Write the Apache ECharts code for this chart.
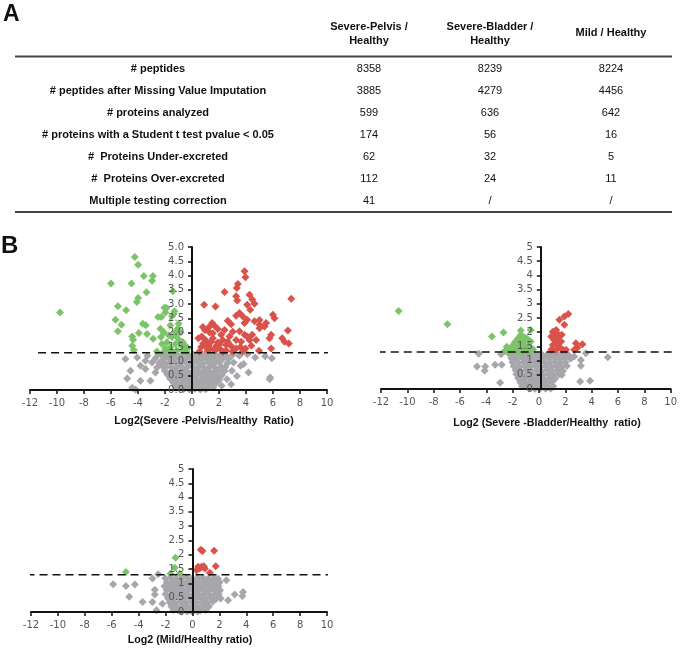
<!DOCTYPE html>
<html>
<head>
<meta charset="utf-8">
<script src="https://cdn.jsdelivr.net/npm/echarts@6/dist/echarts.min.js"></script>
<style>
html,body{margin:0;padding:0;background:#fff;}
#c{width:680px;height:648px;}
</style>
</head>
<body>
<div id="c"></div>
<script>
// ---------- Table data ----------
const colHeaders = [["Severe-Pelvis /", "Healthy"], ["Severe-Bladder /", "Healthy"], ["Mild / Healthy"]];
const rowLabels = [
  "# peptides",
  "# peptides after Missing Value Imputation",
  "# proteins analyzed",
  "# proteins with a Student t test pvalue < 0.05",
  "#  Proteins Under-excreted",
  "#  Proteins Over-excreted",
  "Multiple testing correction"
];
const pelvisVals = ["8358", "3885", "599", "174", "62", "112", "41"];
const bladderVals = ["8239", "4279", "636", "56", "32", "24", "/"];
const mildVals = ["8224", "4456", "642", "16", "5", "11", "/"];

// ---------- Volcano plot data [log2 ratio, -log10 p] ----------
const threshold = 1.3;
const xTicks = { min: -12, max: 10, step: 2 };

const p1Green = [
  [-9.78,2.71],[-4.24,4.65],[-3.99,4.38],[-6.0,3.72],[-4.48,3.72],[-3.57,3.99],[-2.9,3.99],[-2.96,3.82],
  [-3.37,3.42],[-3.99,3.22],[-4.09,3.08],[-5.49,2.93],[-4.88,2.79],[-5.67,2.46],[-5.22,2.28],[-5.49,2.05],
  [-3.65,2.32],[-3.42,2.26],[-3.94,1.99],[-4.43,1.87],[-4.36,1.76],[-2.88,1.79],[-3.33,1.96],[-4.43,1.55],
  [-4.31,1.4],[-2.04,2.88],[-1.97,2.71],[-2.27,2.55],[-2.51,2.55],[-1.48,2.58],[-1.35,2.67],[-0.99,2.32],
  [-1.6,2.26],[-2.34,2.14],[-2.09,2.02],[-1.72,1.91],[-1.23,2.02],[-0.86,2.02],[-1.48,1.85],[-1.85,1.67],
  [-2.22,1.61],[-1.97,1.44],[-1.6,1.49],[-1.23,1.61],[-0.79,1.55],[-0.49,1.55],[-0.37,1.44],[-1.11,1.38],
  [-1.48,1.32],[-2.09,1.32],[-1.42,3.45],[-1.9,2.87],[-1.3,2.75],[-0.95,1.75],[-0.62,1.36],[-1.75,1.4],
  [-1.05,2.15],[-2.6,1.35],[-0.7,1.68],[-1.2,1.9],[-2.3,1.85],[-0.4,1.33]
];
const p1Red = [
  [3.89,4.15],[3.96,3.94],[3.4,3.71],[3.32,3.57],[2.41,3.43],[4.26,3.33],[3.27,3.28],[3.35,3.13],
  [4.46,3.16],[4.63,3.02],[4.09,2.98],[4.31,2.81],[0.9,2.98],[1.74,2.92],[7.35,3.19],[3.52,2.69],
  [3.27,2.6],[5.99,2.63],[6.11,2.51],[2.65,2.42],[2.9,2.3],[4.09,2.46],[3.89,2.34],[4.63,2.4],
  [5.0,2.28],[5.37,2.22],[5.0,2.16],[1.49,2.34],[1.67,2.25],[0.95,2.1],[1.91,2.13],[1.3,2.01],
  [2.16,1.93],[2.78,1.87],[3.52,2.05],[3.89,1.93],[4.46,1.93],[7.1,2.08],[5.86,1.93],[0.47,1.81],
  [0.72,1.87],[1.54,1.81],[2.28,1.75],[2.65,1.69],[3.27,1.75],[4.09,1.87],[4.75,1.75],[5.74,1.81],
  [6.68,1.81],[6.85,1.69],[7.17,1.63],[0.84,1.63],[1.2,1.57],[1.79,1.54],[2.9,1.54],[3.59,1.5],
  [3.96,1.45],[1.17,1.38],[1.67,1.38],[2.16,1.4],[3.27,1.45],[4.96,1.37],[5.86,1.45],[0.68,1.5],
  [2.53,1.38],[1.91,1.66],[1.54,1.98],[2.41,2.1],[1.25,2.19],[5.0,2.45],[3.77,2.57],[3.02,2.04],
  [1.05,1.5],[2.04,1.61],[2.53,1.57],[1.42,1.69],[3.64,1.69],[4.26,1.75],[5.49,2.34],[0.55,1.35],
  [1.0,1.75],[1.35,1.45],[2.3,1.33],[3.0,1.35],[3.75,1.35],[4.4,1.55],[1.85,1.45],[0.8,2.2]
];
const p1Gray = [
  [-4.93,1.08],[-4.06,1.14],[-3.45,1.02],[-2.71,1.11],[-2.96,0.96],[-3.82,0.85],[-3.45,0.73],[-4.56,0.67],
  [-2.59,0.79],[-2.22,0.85],[-2.71,0.61],[-3.08,0.32],[-3.82,0.32],[-4.8,0.4],[-4.43,0.08],[-4.19,0.02],
  [-3.3,1.2],[-2.5,1.25],[1.48,1.14],[2.71,1.08],[3.08,0.96],[3.82,0.91],[4.68,1.14],[5.42,1.18],
  [5.91,1.11],[2.46,0.79],[2.96,0.67],[3.33,0.49],[4.19,0.61],[2.59,0.38],[5.79,0.44],[5.75,0.38],
  [3.5,1.2],[4.1,1.25],[3.0,1.22],[2.9,0.2],[3.6,0.85],[2.2,0.15],
  [-2.3,1.23],[-1.92,1.21],[-1.48,1.24],[-1.1,1.2],[-0.72,1.25],[-0.28,1.22],[0.12,1.24],[0.52,1.2],
  [0.93,1.23],[1.31,1.21],[1.72,1.25],[2.08,1.22],[2.52,1.2],
  [-2.12,1.07],[-1.68,1.09],[-1.33,1.06],[-0.9,1.1],[-0.52,1.07],[-0.08,1.09],[0.31,1.06],[0.72,1.1],
  [1.12,1.07],[1.53,1.09],[1.88,1.06],[2.32,1.1],
  [-2.42,0.95],[-1.98,0.93],[-1.62,0.96],[-1.18,0.92],[-0.82,0.95],[-0.4,0.94],[0.02,0.92],[0.43,0.96],
  [0.81,0.93],[1.22,0.95],[1.61,0.92],[2.02,0.96],[2.6,0.93],
  [-1.93,0.81],[-1.52,0.78],[-1.08,0.82],[-0.71,0.79],[-0.31,0.81],[0.13,0.78],[0.52,0.82],[0.88,0.79],
  [1.32,0.81],[1.71,0.78],[2.18,0.8],
  [-2.02,0.67],[-1.58,0.64],[-1.21,0.68],[-0.79,0.65],[-0.42,0.67],[0.03,0.64],[0.41,0.68],[0.82,0.65],
  [1.19,0.67],[1.62,0.64],[1.98,0.68],[2.41,0.66],
  [-1.81,0.53],[-1.39,0.5],[-1.02,0.54],[-0.58,0.51],[-0.21,0.53],[0.22,0.5],[0.61,0.54],[0.98,0.51],
  [1.42,0.53],[1.79,0.5],[2.21,0.52],
  [-1.62,0.39],[-1.21,0.36],[-0.79,0.4],[-0.42,0.37],[0.01,0.39],[0.38,0.36],[0.81,0.4],[1.19,0.37],
  [1.61,0.39],[2.02,0.36],
  [-1.38,0.25],[-1.02,0.22],[-0.61,0.26],[-0.18,0.23],[0.21,0.25],[0.62,0.22],[0.98,0.26],[1.41,0.23],[1.82,0.25],
  [-1.22,0.11],[-0.78,0.09],[-0.41,0.12],[0.02,0.09],[0.41,0.11],[0.79,0.08],[1.22,0.12],[1.58,0.1],
  [-0.62,0.03],[-0.18,0.02],[0.22,0.04],[0.61,0.02],[1.02,0.03]
];

const p2Green = [
  [-10.66,2.75],[-6.96,2.28],[-3.58,1.85],[-2.7,1.99],[-1.38,2.06],[-0.63,2.08],[-2.08,1.49],[-1.83,1.65],
  [-1.58,1.79],[-1.38,1.91],[-1.2,1.69],[-1.08,1.55],[-1.45,1.44],[-2.33,1.38],[-1.83,1.38],[-0.95,1.38],
  [-0.7,1.49],[-0.63,1.67],[-2.45,1.49],[-1.7,1.55],[-1.33,1.61],[-1.58,1.32],[-1.2,1.29],[-0.88,1.76],
  [-0.45,1.4],[-1.1,1.82],[-2.2,1.32],[-0.8,1.31],[-1.95,1.45],[-1.5,1.72],[-1.0,1.48],[-2.6,1.33]
];
const p2Red = [
  [2.23,2.64],[1.93,2.55],[1.55,2.44],[1.93,2.26],[1.05,2.02],[1.18,1.91],[1.3,2.08],[0.93,1.85],
  [1.43,1.79],[1.68,1.67],[1.3,1.61],[1.55,1.49],[0.93,1.38],[1.3,1.38],[1.8,1.38],[2.05,1.38],
  [1.05,1.55],[2.8,1.61],[3.3,1.58],[2.93,1.46],[2.68,1.38],[1.13,1.73],[1.48,1.91],[1.73,1.91]
];
const p2Gray = [
  [-4.58,1.24],[-4.71,0.79],[-4.08,0.79],[-4.13,0.64],[-3.33,0.85],[-2.83,0.85],[-2.88,1.22],[-2.95,0.22],
  [3.55,1.26],[5.23,1.12],[3.18,1.02],[3.18,0.82],[3.13,0.26],[3.88,0.29],[1.73,0.49],[2.43,1.08],[2.68,1.14],
  [-2.28,1.24],[-1.88,1.21],[-1.52,1.25],[-1.08,1.22],[-0.68,1.24],[-0.22,1.2],[0.18,1.23],[0.61,1.21],
  [1.02,1.24],[1.42,1.2],[1.83,1.23],[2.22,1.21],
  [-2.1,1.08],[-1.7,1.06],[-1.28,1.1],[-0.88,1.07],[-0.48,1.09],[-0.02,1.06],[0.38,1.1],[0.8,1.07],
  [1.22,1.09],[1.62,1.06],[2.02,1.1],[2.38,1.07],
  [-2.02,0.94],[-1.58,0.92],[-1.18,0.95],[-0.79,0.93],[-0.38,0.96],[0.03,0.92],[0.42,0.95],[0.82,0.93],
  [1.21,0.96],[1.63,0.92],[2.01,0.94],
  [-1.92,0.8],[-1.49,0.78],[-1.09,0.81],[-0.68,0.79],[-0.29,0.82],[0.12,0.78],[0.52,0.81],[0.92,0.79],
  [1.32,0.8],[1.72,0.78],[2.12,0.81],
  [-1.78,0.66],[-1.38,0.63],[-0.98,0.67],[-0.58,0.64],[-0.19,0.66],[0.22,0.63],[0.62,0.67],[1.01,0.64],
  [1.41,0.66],[1.82,0.63],
  [-1.72,0.52],[-1.31,0.49],[-0.9,0.53],[-0.49,0.5],[-0.08,0.52],[0.32,0.49],[0.71,0.53],[1.12,0.5],[1.52,0.52],
  [-1.58,0.38],[-1.18,0.35],[-0.78,0.39],[-0.38,0.36],[0.02,0.38],[0.41,0.35],[0.81,0.39],[1.22,0.36],
  [-1.42,0.24],[-1.02,0.21],[-0.61,0.25],[-0.22,0.22],[0.19,0.24],[0.58,0.21],[0.98,0.25],
  [-1.28,0.1],[-0.88,0.08],[-0.48,0.11],[-0.08,0.08],[0.32,0.1],[0.72,0.07],[1.08,0.1],
  [-0.7,0.02],[-0.3,0.01],[0.1,0.02],[0.5,0.01],[0.9,0.02]
];

const p3Green = [[-4.95,1.4],[-1.26,1.9],[-1.31,1.55],[-1.63,1.34],[-0.94,1.34]];
const p3Red = [
  [0.62,2.18],[0.74,2.13],[1.61,2.14],[0.42,1.58],[0.67,1.58],[0.84,1.6],[0.54,1.52],[0.92,1.52],
  [1.73,1.6],[1.29,1.37],[0.3,1.46]
];
const p3Gray = [
  [-5.89,0.97],[-4.95,0.91],[-4.28,0.96],[-4.7,0.53],[-3.71,0.35],[-2.97,1.17],[-2.55,1.32],[-2.8,0.78],
  [-2.8,0.61],[-2.97,0.35],[-2.23,0.29],[-2.67,0.06],[2.52,1.11],[2.1,0.47],[3.14,0.61],[3.76,0.7],
  [3.71,0.56],[2.65,0.41],[1.78,0.88],
  [-2.02,1.18],[-1.62,1.2],[-1.22,1.17],[-0.82,1.19],[-0.42,1.2],[-0.02,1.17],[0.38,1.19],[0.78,1.2],
  [1.18,1.17],[1.58,1.19],[1.9,1.16],
  [-1.9,1.04],[-1.48,1.02],[-1.08,1.05],[-0.68,1.03],[-0.28,1.06],[0.12,1.02],[0.52,1.05],[0.92,1.03],
  [1.32,1.05],[1.72,1.02],[2.02,1.04],
  [-2.08,0.9],[-1.68,0.88],[-1.28,0.91],[-0.88,0.89],[-0.48,0.92],[-0.08,0.88],[0.32,0.91],[0.72,0.89],
  [1.12,0.92],[1.52,0.88],[1.92,0.9],
  [-1.92,0.76],[-1.52,0.74],[-1.12,0.77],[-0.72,0.75],[-0.32,0.78],[0.08,0.74],[0.48,0.77],[0.88,0.75],
  [1.28,0.78],[1.68,0.74],[2.05,0.76],
  [-2.0,0.62],[-1.6,0.6],[-1.2,0.63],[-0.8,0.61],[-0.4,0.64],[0.0,0.6],[0.4,0.63],[0.8,0.61],
  [1.2,0.64],[1.6,0.6],[1.95,0.62],
  [-1.82,0.48],[-1.42,0.46],[-1.02,0.49],[-0.62,0.47],[-0.22,0.5],[0.18,0.46],[0.58,0.49],[0.98,0.47],
  [1.38,0.5],[1.78,0.46],
  [-1.7,0.34],[-1.3,0.32],[-0.9,0.35],[-0.5,0.33],[-0.1,0.36],[0.3,0.32],[0.7,0.35],[1.1,0.33],[1.5,0.36],
  [-1.58,0.2],[-1.18,0.18],[-0.78,0.21],[-0.38,0.19],[0.02,0.22],[0.42,0.18],[0.82,0.21],[1.22,0.19],
  [-1.42,0.07],[-1.02,0.05],[-0.62,0.08],[-0.22,0.06],[0.18,0.08],[0.58,0.05],[0.98,0.07],
  [-0.8,0.01],[-0.4,0.02],[0.0,0.01],[0.4,0.02]
];

// dashed threshold line extents (data x)
const dash1 = [[-11.4, threshold], [10.07, threshold]];
const dash2 = [[-12.25, threshold], [10.2, threshold]];
const dash3 = [[-13.3, threshold], [10.07, threshold]];

const xTitles = ["Log2(Severe -Pelvis/Healthy  Ratio)", "Log2 (Severe -Bladder/Healthy  ratio)", "Log2 (Mild/Healthy ratio)"];
const yTitle = "- Log10 (P value)";

// ---------- Build ----------
const GREEN = '#7cc36a', RED = '#d9534a', GRAY = '#a7a7ab';
const chart = echarts.init(document.getElementById('c'), null, { renderer: 'canvas' });

const grids = [
  { left: 30, top: 247, width: 297, height: 143 },
  { left: 381, top: 247, width: 293, height: 142 },
  { left: 31, top: 469, width: 296, height: 143 }
];
// place each y axis where x = 0 (pixel shift from grid's left edge)
const yOffsets = grids.map(g => -g.width * (0 - xTicks.min) / (xTicks.max - xTicks.min));

function xAxisFor(i) {
  return {
    gridIndex: i, type: 'value', min: xTicks.min, max: xTicks.max, interval: xTicks.step,
    axisLine: { onZero: false, lineStyle: { color: '#111', width: 2 } },
    axisTick: { show: true, length: 4, lineStyle: { color: '#111', width: 1.5 } },
    axisLabel: { color: '#555', fontSize: 10, fontFamily: 'DejaVu Sans', margin: 8 },
    splitLine: { show: false }, z: 5
  };
}
function yAxisFor(i, fixed) {
  return {
    gridIndex: i, type: 'value', min: 0, max: 5, interval: 0.5, offset: yOffsets[i],
    axisLine: { onZero: false, lineStyle: { color: '#111', width: 2 } },
    axisTick: { show: true, length: 4, lineStyle: { color: '#111', width: 1.5 } },
    axisLabel: {
      color: '#555', fontSize: 10, fontFamily: 'DejaVu Sans', margin: 8,
      formatter: v => fixed ? v.toFixed(1) : String(v)
    },
    splitLine: { show: false }, z: 5
  };
}
function scatter(i, data, color) {
  return {
    type: 'scatter', xAxisIndex: i, yAxisIndex: i, data: data, symbol: 'diamond',
    symbolSize: [8, 8], itemStyle: { color: color, opacity: 1 }, silent: true, animation: false
  };
}
function dashLine(i, data) {
  return {
    type: 'line', xAxisIndex: i, yAxisIndex: i, data: data, symbol: 'none', clip: false,
    lineStyle: { color: '#111', width: 1.5, type: [8, 5] }, silent: true, animation: false, z: 4
  };
}

const graphics = [];
const txt = (x, y, text, font, align, extra) => Object.assign({
  type: 'text', x: x, y: y,
  style: { text: text, font: font, fill: '#111', textAlign: align || 'left', textVerticalAlign: 'middle' }
}, extra || {});

graphics.push(txt(3, 15, 'A', 'bold 23px "Liberation Sans"', 'left'));
graphics.push(txt(1, 246, 'B', 'bold 24px "Liberation Sans"', 'left'));

const colX = [369, 490, 611];
const headFont = 'bold 11px "Liberation Sans"';
colHeaders.forEach((lines, c) => {
  if (lines.length === 2) {
    graphics.push(txt(colX[c], 27, lines[0], headFont, 'center'));
    graphics.push(txt(colX[c], 41, lines[1], headFont, 'center'));
  } else {
    graphics.push(txt(colX[c], 33, lines[0], headFont, 'center'));
  }
});
graphics.push({ type: 'line', shape: { x1: 15, y1: 56.5, x2: 672, y2: 56.5 }, style: { stroke: '#444', lineWidth: 2 } });
graphics.push({ type: 'line', shape: { x1: 15, y1: 212, x2: 672, y2: 212 }, style: { stroke: '#444', lineWidth: 2 } });

const rowY0 = 69, rowStep = 22;
const cols = [pelvisVals, bladderVals, mildVals];
rowLabels.forEach((lab, r) => {
  const y = rowY0 + r * rowStep;
  graphics.push(txt(158, y, lab, 'bold 11px "Liberation Sans"', 'center'));
  cols.forEach((vals, c) => graphics.push(txt(colX[c], y, vals[r], '11px "Liberation Sans"', 'center')));
});

// axis titles
const titleFont = 'bold 10.7px "Liberation Sans"';
graphics.push(txt(204, 421, xTitles[0], titleFont, 'center'));
graphics.push(txt(547, 423, xTitles[1], titleFont, 'center'));
graphics.push(txt(190, 640, xTitles[2], titleFont, 'center'));
graphics.push(txt(14, 305, yTitle, titleFont, 'center', { rotation: Math.PI / 2, originX: 14, originY: 305 }));
graphics.push(txt(14, 542, yTitle, titleFont, 'center', { rotation: Math.PI / 2, originX: 14, originY: 542 }));

chart.setOption({
  animation: false,
  backgroundColor: '#fff',
  grid: grids,
  xAxis: [xAxisFor(0), xAxisFor(1), xAxisFor(2)],
  yAxis: [yAxisFor(0, true), yAxisFor(1, false), yAxisFor(2, false)],
  series: [
    scatter(0, p1Gray, GRAY), scatter(0, p1Green, GREEN), scatter(0, p1Red, RED), dashLine(0, dash1),
    scatter(1, p2Gray, GRAY), scatter(1, p2Green, GREEN), scatter(1, p2Red, RED), dashLine(1, dash2),
    scatter(2, p3Gray, GRAY), scatter(2, p3Green, GREEN), scatter(2, p3Red, RED), dashLine(2, dash3)
  ],
  graphic: graphics
});
</script>
</body>
</html>
